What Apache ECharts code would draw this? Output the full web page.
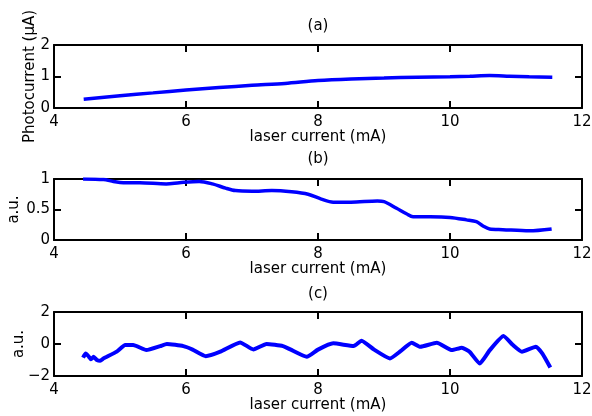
<!DOCTYPE html>
<html><head><meta charset="utf-8">
<script src="https://cdn.jsdelivr.net/npm/echarts@6/dist/echarts.min.js"></script>
<style>html,body{margin:0;padding:0;background:#fff}#c{width:592px;height:416px}</style>
</head><body><div id="c"></div>
<script>
const xTicks = [4, 6, 8, 10, 12];
const titles = ['(a)', '(b)', '(c)'];
const xName = 'laser current (mA)';
const yNames = ['Photocurrent (µA)', 'a.u.', 'a.u.'];

const xA = [4.45, 5.0, 5.5, 6.0, 6.5, 7.0, 7.5, 8.0, 8.5, 9.0, 9.5, 10.0, 10.3, 10.6, 10.9, 11.2, 11.55];
const yA = [0.28, 0.39, 0.48, 0.57, 0.65, 0.72, 0.78, 0.87, 0.92, 0.95, 0.98, 0.995, 1.01, 1.03, 1.01, 0.99, 0.98];

const xB = [4.44, 4.75, 4.9, 5.05, 5.3, 5.7, 5.9, 6.2, 6.4, 6.6, 6.75, 7.0, 7.3, 7.6, 7.85, 8.05, 8.23, 8.5, 8.9, 9.0, 9.19, 9.34, 9.44, 9.7, 10.0, 10.25, 10.4, 10.5, 10.6, 10.8, 11.2, 11.54];
const yB = [1.0, 0.99, 0.96, 0.94, 0.94, 0.92, 0.94, 0.96, 0.92, 0.85, 0.81, 0.80, 0.81, 0.79, 0.75, 0.67, 0.62, 0.62, 0.64, 0.63, 0.52, 0.43, 0.38, 0.38, 0.37, 0.33, 0.30, 0.23, 0.18, 0.17, 0.15, 0.18];

const xC = [4.44, 4.48, 4.52, 4.56, 4.6, 4.65, 4.7, 4.75, 4.8, 4.95, 5.08, 5.2, 5.4, 5.61, 5.71, 5.96, 6.1, 6.3, 6.52, 6.82, 7.02, 7.22, 7.47, 7.58, 7.83, 8.0, 8.23, 8.54, 8.66, 8.85, 9.09, 9.25, 9.42, 9.55, 9.80, 10.03, 10.18, 10.3, 10.45, 10.6, 10.81, 10.95, 11.09, 11.30, 11.4, 11.52];
const yC = [-0.85, -0.6, -0.75, -0.95, -0.8, -1.0, -1.05, -0.9, -0.8, -0.48, -0.06, -0.06, -0.38, -0.13, 0.0, -0.13, -0.35, -0.76, -0.48, 0.1, -0.34, 0.0, -0.13, -0.34, -0.8, -0.35, 0.04, -0.13, 0.21, -0.35, -0.9, -0.45, 0.08, -0.17, 0.08, -0.38, -0.23, -0.5, -1.22, -0.4, 0.5, -0.05, -0.48, -0.17, -0.6, -1.47];

const yRanges = [[0, 2, 1], [0, 1, 0.5], [-2, 2, 2]];
const xs = [xA, xB, xC], ys = [yA, yB, yC];

const FONT = 'DejaVu Sans';
const FS = 15;
const grids = [
  {left: 54, right: 10, top: 45, height: 63, outerBoundsMode: 'none', containLabel: false},
  {left: 54, right: 10, top: 179, height: 61, outerBoundsMode: 'none', containLabel: false},
  {left: 54, right: 10, top: 312, height: 64, outerBoundsMode: 'none', containLabel: false}
];
const yNameGaps = [16, 32, 27];
const titleY = [26, 159, 294];

const lineAx = {show: true, onZero: false, lineStyle: {color: '#000', width: 2}};
const tickAx = {show: true, inside: true, length: 7, lineStyle: {color: '#000', width: 2}};
const lbl = {color: '#000', fontFamily: FONT, fontSize: FS, formatter: v => String(v).replace('-', '\u2212')};

const xAxis = [], yAxis = [], series = [];
for (let i = 0; i < 3; i++) {
  xAxis.push({type: 'value', gridIndex: i, min: xTicks[0], max: xTicks[xTicks.length - 1], interval: 2,
    position: 'bottom', axisLine: lineAx, axisTick: tickAx, splitLine: {show: false},
    axisLabel: Object.assign({margin: 7}, lbl),
    name: xName, nameLocation: 'middle', nameGap: 22, nameMoveOverlap: false,
    nameTextStyle: {color: '#000', fontFamily: FONT, fontSize: FS, verticalAlign: 'top'}});
  xAxis.push({type: 'value', gridIndex: i, min: xTicks[0], max: xTicks[xTicks.length - 1], interval: 2,
    position: 'top', axisLine: lineAx, axisTick: tickAx, splitLine: {show: false}, axisLabel: {show: false}});
  const r = yRanges[i];
  yAxis.push({type: 'value', gridIndex: i, min: r[0], max: r[1], interval: r[2],
    position: 'left', axisLine: lineAx, axisTick: tickAx, splitLine: {show: false},
    axisLabel: Object.assign({margin: 4}, lbl),
    name: yNames[i], nameLocation: 'middle', nameGap: yNameGaps[i], nameMoveOverlap: false,
    nameTextStyle: {color: '#000', fontFamily: FONT, fontSize: FS}});
  yAxis.push({type: 'value', gridIndex: i, min: r[0], max: r[1], interval: r[2],
    position: 'right', axisLine: lineAx, axisTick: tickAx, splitLine: {show: false}, axisLabel: {show: false}});
  series.push({type: 'line', xAxisIndex: 2 * i, yAxisIndex: 2 * i, showSymbol: false, smooth: i === 2 ? 0.15 : 0.3,
    lineStyle: {color: '#0000ff', width: i === 2 ? 4 : 3.5}, animation: false,
    data: xs[i].map((x, k) => [x, ys[i][k]])});
}

const chart = echarts.init(document.getElementById('c'), null, {renderer: 'canvas'});
chart.setOption({
  animation: false,
  backgroundColor: '#fff',
  grid: grids,
  xAxis, yAxis, series,
  graphic: titles.map((t, i) => ({type: 'text', x: 318, y: titleY[i],
    style: {text: t, fill: '#000', font: FS + 'px "' + FONT + '"', textAlign: 'center', textVerticalAlign: 'middle'}}))
});
</script></body></html>
